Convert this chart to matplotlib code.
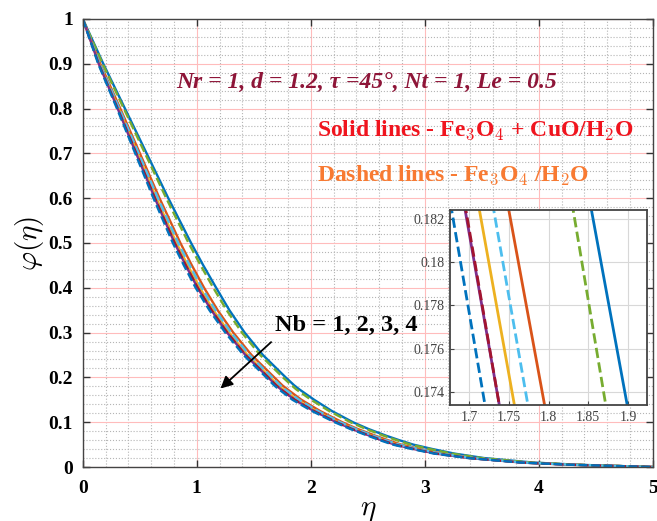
import matplotlib.pyplot as plt
from matplotlib.ticker import MultipleLocator

plt.rcParams['font.family'] = ['Liberation Serif', 'DejaVu Serif']
plt.rcParams['mathtext.fontset'] = 'cm'

# phi levels, and the eta at which each curve reaches that level
phi_levels = [1.0, 0.9, 0.8, 0.7, 0.6, 0.5, 0.45, 0.4, 0.35, 0.3, 0.25, 0.2,
              0.1824, 0.1734, 0.15, 0.125, 0.1, 0.085, 0.07, 0.06, 0.05, 0.04,
              0.03, 0.02, 0.01, 0.005, 0.0]

# solid lines - Fe3O4 + CuO/H2O  (Nb = 1, 2, 3, 4)
eta_s1 = [0, 0.18, 0.37, 0.56, 0.75, 0.95, 1.057, 1.17, 1.286, 1.42, 1.58, 1.78,
          1.854, 1.899, 2.03, 2.185, 2.37, 2.505, 2.66, 2.775, 2.90, 3.07,
          3.26, 3.52, 3.95, 4.35, 5.0]
eta_s2 = [0, 0.153, 0.329, 0.501, 0.673, 0.856, 0.957, 1.064, 1.183, 1.32, 1.48, 1.68,
          1.750, 1.795, 1.918, 2.082, 2.276, 2.411, 2.566, 2.675, 2.794, 2.964,
          3.154, 3.437, 3.885, 4.309, 5.0]
eta_s3 = [0, 0.144, 0.314, 0.48, 0.646, 0.822, 0.921, 1.026, 1.146, 1.284, 1.444, 1.644,
          1.713, 1.757, 1.878, 2.045, 2.242, 2.377, 2.532, 2.639, 2.756, 2.926,
          3.116, 3.408, 3.862, 4.294, 5.0]
eta_s4 = [0, 0.14, 0.306, 0.468, 0.632, 0.805, 0.903, 1.007, 1.128, 1.266, 1.426, 1.626,
          1.695, 1.738, 1.858, 2.027, 2.225, 2.36, 2.515, 2.621, 2.737, 2.907,
          3.097, 3.393, 3.85, 4.286, 5.0]

# dashed lines - Fe3O4/H2O  (Nb = 1, 2, 3, 4)
eta_d1 = [0, 0.174, 0.36, 0.546, 0.732, 0.928, 1.034, 1.145, 1.262, 1.396, 1.556, 1.756,
          1.831, 1.872, 2.003, 2.161, 2.348, 2.483, 2.638, 2.752, 2.875, 3.045,
          3.235, 3.5, 3.935, 4.34, 5.0]
eta_d2 = [0, 0.1485, 0.321, 0.49, 0.659, 0.838, 0.938, 1.044, 1.164, 1.301, 1.461, 1.661,
          1.731, 1.774, 1.897, 2.063, 2.258, 2.393, 2.548, 2.656, 2.774, 2.944,
          3.134, 3.422, 3.873, 4.301, 5.0]
eta_d3 = [0, 0.14, 0.307, 0.47, 0.633, 0.806, 0.904, 1.008, 1.129, 1.267, 1.427, 1.627,
          1.696, 1.738, 1.859, 2.028, 2.226, 2.361, 2.516, 2.622, 2.738, 2.908,
          3.098, 3.394, 3.851, 4.287, 5.0]
eta_d4 = [0, 0.135, 0.30, 0.46, 0.62, 0.79, 0.887, 0.99, 1.111, 1.25, 1.41, 1.61,
          1.678, 1.720, 1.84, 2.01, 2.21, 2.345, 2.50, 2.605, 2.72, 2.89,
          3.08, 3.38, 3.84, 4.28, 5.0]

solid_colors = ['#0072BD', '#D95319', '#EDB120', '#7E2F8E']
dashed_colors = ['#77AC30', '#4DBEEE', '#A2142F', '#0072BD']

x_ticks = [0, 1, 2, 3, 4, 5]
y_ticks = [0, 0.1, 0.2, 0.3, 0.4, 0.5, 0.6, 0.7, 0.8, 0.9, 1]
y_ticklabels = ['0', '0.1', '0.2', '0.3', '0.4', '0.5', '0.6', '0.7', '0.8', '0.9', '1']
in_x_ticks = [1.7, 1.75, 1.8, 1.85, 1.9]
in_x_labels = ['1.7', '1.75', '1.8', '1.85', '1.9']
in_y_ticks = [0.174, 0.176, 0.178, 0.180, 0.182]
in_y_labels = ['0.174', '0.176', '0.178', '0.18', '0.182']


def draw_curves(ax, lw):
    for e, c in zip([eta_s1, eta_s2, eta_s3, eta_s4], solid_colors):
        ax.plot(e, phi_levels, '-', color=c, lw=lw)
    for e, c in zip([eta_d1, eta_d2, eta_d3, eta_d4], dashed_colors):
        ax.plot(e, phi_levels, '--', color=c, lw=lw)


fig = plt.figure(figsize=(6.57, 5.21), dpi=100)
ax = fig.add_axes([0.126, 0.1036, 0.8676, 0.86])

draw_curves(ax, 1.7)

ax.set_xlim(0, 5)
ax.set_ylim(0, 1)
ax.set_xticks(x_ticks)
ax.set_xticklabels([str(t) for t in x_ticks])
ax.set_yticks(y_ticks)
ax.set_yticklabels(y_ticklabels)
ax.xaxis.set_minor_locator(MultipleLocator(0.2))
ax.yaxis.set_minor_locator(MultipleLocator(0.02))
ax.grid(which='minor', color='#b5b5b5', linestyle=':', lw=0.8)
ax.grid(which='major', color='#ffbcbc', linestyle='-', lw=0.8)
ax.set_axisbelow(True)
ax.tick_params(which='major', direction='in', length=5, top=True, right=True,
               labelsize=14, width=1, color='#333333')
ax.tick_params(axis='x', pad=9)
ax.tick_params(axis='y', pad=7)
ax.tick_params(which='minor', length=0)
for lab in ax.get_xticklabels() + ax.get_yticklabels():
    lab.set_fontweight('bold')
for s in ax.spines.values():
    s.set_color('#444444')
    s.set_linewidth(1.0)

ax.set_xlabel(r'$\eta$', fontsize=21, labelpad=0)
ax.set_ylabel(r'$\varphi(\eta)$', fontsize=21, labelpad=2)

ax.text(0.82, 0.859, 'Nr = 1, d = 1.2, τ =45°, Nt = 1, Le = 0.5', color='#8E1538',
        fontsize=17, fontweight='bold', fontstyle='italic', va='center', ha='left')
ax.text(2.056, 0.752, r'Solid lines - Fe$_\mathbf{3}$O$_\mathbf{4}$ + CuO/H$_\mathbf{2}$O',
        color='#F0141E', fontsize=17, fontweight='bold', va='center', ha='left')
ax.text(2.056, 0.651, r'Dashed lines - Fe$_\mathbf{3}$O$_\mathbf{4}$ /H$_\mathbf{2}$O',
        color='#F87A32', fontsize=17, fontweight='bold', va='center', ha='left')
ax.text(1.687, 0.316, 'Nb = 1, 2, 3, 4', color='black', fontsize=17.5,
        fontweight='bold', va='center', ha='left')
ax.annotate('', xy=(1.19, 0.171), xytext=(1.67, 0.283),
            arrowprops=dict(arrowstyle='-|>', color='black', lw=1.3, mutation_scale=18))

# zoomed inset
ax_in = fig.add_axes([0.685, 0.2226, 0.2999, 0.374])
draw_curves(ax_in, 2.0)
ax_in.set_xlim(1.676, 1.924)
ax_in.set_ylim(0.1734, 0.1824)
ax_in.set_xticks(in_x_ticks)
ax_in.set_xticklabels(in_x_labels)
ax_in.set_yticks(in_y_ticks)
ax_in.set_yticklabels(in_y_labels)
ax_in.grid(color='#d8d8d8', lw=0.8)
ax_in.set_axisbelow(True)
ax_in.tick_params(direction='in', length=3, labelsize=10, labelcolor='#444444',
                  color='#444444', pad=4)
for s in ax_in.spines.values():
    s.set_color('#444444')
    s.set_linewidth(1.3)

fig.savefig('out.png', dpi=100)
